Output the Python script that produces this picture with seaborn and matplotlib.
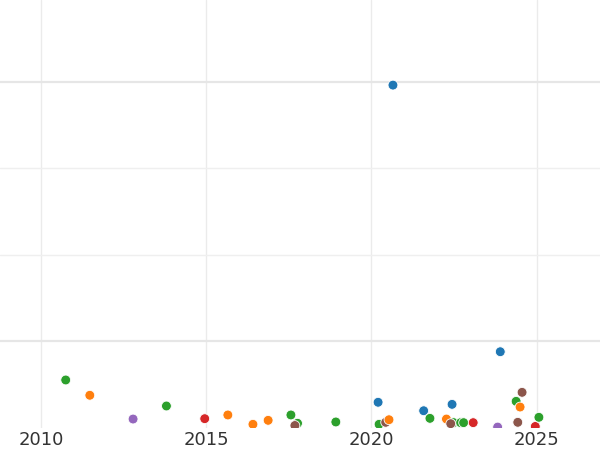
import pandas as pd
import seaborn as sns
import matplotlib.pyplot as plt
from matplotlib.ticker import FixedLocator

# -------------------------------------------------------------------
# Data (year, value, group)
# -------------------------------------------------------------------
years = [
    2010.74, 2011.47, 2012.78, 2013.79, 2014.95, 2015.65, 2016.41, 2016.87,
    2017.56, 2017.76, 2017.68, 2018.92, 2020.20, 2020.23, 2020.43, 2020.53,
    2020.65, 2021.58, 2021.77, 2022.27, 2022.44, 2022.49, 2022.70, 2022.79,
    2022.40, 2023.08, 2023.82, 2023.90, 2024.38, 2024.50, 2024.56, 2024.43,
    2024.96, 2025.07,
]
values = [
    550, 373, 98, 249, 102, 145, 37, 83,
    145, 49, 23, 64, 292, 37, 60, 90,
    3963, 194, 106, 98, 268, 56, 56, 56,
    44, 56, 5, 877, 303, 237, 407, 60,
    12, 118,
]
groups = [
    "C", "B", "E", "C", "D", "B", "B", "B",
    "C", "C", "F", "C", "A", "C", "F", "B",
    "A", "A", "C", "B", "A", "C", "C", "C",
    "F", "D", "E", "A", "C", "B", "F", "F",
    "D", "C",
]
group_order = ["A", "B", "C", "D", "E", "F"]

df = pd.DataFrame({"year": years, "value": values, "group": groups})

# -------------------------------------------------------------------
# Plot
# -------------------------------------------------------------------
sns.set_theme(style="whitegrid")
plt.rcParams["font.family"] = ["DejaVu Sans"]

fig = plt.figure(figsize=(6, 4.5), dpi=100)
ax = fig.add_axes([0, 0.05, 1, 0.95])

sns.scatterplot(
    data=df, x="year", y="value", hue="group", hue_order=group_order,
    palette="tab10", s=50, edgecolor="white", linewidth=0.6,
    legend=False, ax=ax, zorder=3,
)

ax.set_xlim(2008.75, 2026.92)
ax.set_ylim(0, 4948)
ax.set_xticks([2010, 2015, 2020, 2025])
ax.yaxis.set_major_locator(FixedLocator([1000, 4000]))
ax.yaxis.set_minor_locator(FixedLocator([2000, 3000]))
ax.set_yticklabels([])

ax.grid(axis="x", which="major", color="#ebebeb", linewidth=1.0)
ax.grid(axis="y", which="major", color="#e6e6e6", linewidth=1.6)
ax.grid(axis="y", which="minor", color="#efefef", linewidth=1.0)
ax.set_axisbelow(True)

ax.tick_params(axis="x", length=0, pad=2.5, labelsize=13, labelcolor="#333333")
ax.tick_params(axis="y", which="both", length=0)
ax.set_xlabel("")
ax.set_ylabel("")
for sp in ax.spines.values():
    sp.set_visible(False)

fig.savefig("out.png", dpi=100)
